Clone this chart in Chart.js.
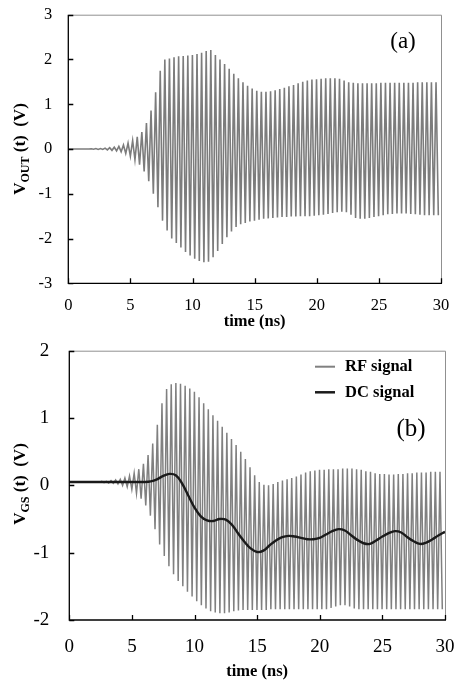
<!DOCTYPE html>
<html lang="en">
<head>
<meta charset="UTF-8">
<title>VOUT and VGS transient</title>
<script src="https://cdn.jsdelivr.net/npm/chart.js"></script>
<style>
  body { margin: 0; background: #fff; }
  canvas { position: absolute; left: 0; }
  #chartA { top: 0; }
  #chartB { top: 330px; }
</style>
</head>
<body>
<canvas id="chartA" width="456" height="330"></canvas>
<canvas id="chartB" width="456" height="351"></canvas>
<script>
// one RF cycle (ns), peaks at k*T, troughs at (k+0.5)*T
const rfPeriod = 0.37;

// panel (a): V_OUT peak / trough per cycle (V)
const voutPeaks = [
  0, 0, 0, 0, 0,
  0.005, 0.01, 0.01, 0.02, 0.03,
  0.04, 0.06, 0.09, 0.13, 0.19,
  0.27, 0.38, 0.58, 0.86, 1.27,
  1.75, 2.0, 2.02, 2.05, 2.07,
  2.08, 2.09, 2.1, 2.12, 2.15,
  2.19, 2.21, 2.1, 2.0, 1.9,
  1.79, 1.68, 1.58, 1.49, 1.41,
  1.35, 1.3, 1.28, 1.28, 1.29,
  1.31, 1.34, 1.37, 1.4, 1.43,
  1.47, 1.5, 1.53, 1.55, 1.56,
  1.57, 1.58, 1.58, 1.58, 1.57,
  1.53, 1.49, 1.48, 1.47, 1.47,
  1.47, 1.47, 1.47, 1.48, 1.48,
  1.48, 1.48, 1.48, 1.48, 1.48,
  1.48, 1.49, 1.49, 1.49, 1.49,
  1.49
];
const voutTroughs = [
  0, 0, 0, 0, 0,
  -0.005, -0.01, -0.01, -0.02, -0.03,
  -0.04, -0.06, -0.1, -0.16, -0.24,
  -0.35, -0.5, -0.72, -1.0, -1.3,
  -1.6, -1.82, -2.0, -2.1, -2.2,
  -2.3, -2.38, -2.45, -2.5, -2.53,
  -2.52, -2.42, -2.28, -2.12, -1.97,
  -1.84, -1.74, -1.68, -1.65, -1.62,
  -1.6, -1.58, -1.56, -1.55, -1.54,
  -1.53, -1.52, -1.52, -1.51, -1.51,
  -1.5, -1.5, -1.5, -1.49, -1.48,
  -1.47, -1.45, -1.43, -1.41, -1.4,
  -1.41, -1.47, -1.54, -1.56, -1.56,
  -1.54, -1.52, -1.5, -1.48, -1.46,
  -1.45, -1.44, -1.44, -1.44, -1.45,
  -1.46, -1.47, -1.48, -1.48, -1.48,
  -1.48
];

// panel (b): V_GS RF peak / trough per cycle (V)
const vgsPeaks = [
  0.05, 0.05, 0.05, 0.05, 0.05,
  0.05, 0.055, 0.06, 0.06, 0.07,
  0.08, 0.09, 0.11, 0.14, 0.18,
  0.24, 0.32, 0.45, 0.62, 0.9,
  1.22, 1.43, 1.5, 1.52, 1.51,
  1.48, 1.44, 1.39, 1.31, 1.22,
  1.13, 1.04, 0.96, 0.87, 0.78,
  0.69, 0.6, 0.5, 0.39, 0.27,
  0.15, 0.05, 0.01, 0.0, 0.02,
  0.05, 0.07, 0.09, 0.11, 0.13,
  0.16, 0.19, 0.21, 0.22, 0.23,
  0.23, 0.24, 0.24, 0.24, 0.25,
  0.25, 0.25, 0.24, 0.23, 0.21,
  0.2, 0.18, 0.17, 0.17, 0.16,
  0.16, 0.17, 0.17, 0.18, 0.18,
  0.19, 0.19, 0.19, 0.2, 0.2,
  0.2
];
const vgsTroughs = [
  0.05, 0.05, 0.05, 0.05, 0.05,
  0.05, 0.045, 0.04, 0.035, 0.03,
  0.02, 0.0, -0.02, -0.06, -0.12,
  -0.2, -0.3, -0.45, -0.65, -0.88,
  -1.05, -1.2, -1.32, -1.42, -1.5,
  -1.58, -1.65, -1.72, -1.78, -1.83,
  -1.87, -1.89, -1.9, -1.9, -1.89,
  -1.87, -1.86, -1.85, -1.85, -1.85,
  -1.85, -1.85, -1.85, -1.84, -1.84,
  -1.84, -1.84, -1.84, -1.84, -1.84,
  -1.84, -1.84, -1.84, -1.84, -1.84,
  -1.84, -1.82, -1.8, -1.78, -1.78,
  -1.8, -1.83, -1.84, -1.84, -1.84,
  -1.84, -1.84, -1.84, -1.84, -1.84,
  -1.84, -1.84, -1.84, -1.84, -1.84,
  -1.84, -1.84, -1.84, -1.84, -1.84,
  -1.84
];

// panel (b): DC signal
const dcTimes = [
  0, 0.5, 1, 1.5, 2, 2.5, 3, 3.5, 4, 4.5, 5, 5.5, 6, 6.5, 7, 7.5, 8, 8.5, 9, 9.5,
  10, 10.5, 11, 11.5, 12, 12.5, 13, 13.5, 14, 14.5, 15, 15.5, 16, 16.5, 17, 17.5,
  18, 18.5, 19, 19.5, 20, 20.5, 21, 21.5, 22, 22.5, 23, 23.5, 24, 24.5, 25, 25.5,
  26, 26.5, 27, 27.5, 28, 28.5, 29, 29.5, 30
];
const dcValues = [
  0.05, 0.05, 0.05, 0.05, 0.05, 0.05, 0.05, 0.05, 0.05, 0.05, 0.05, 0.05, 0.05,
  0.06, 0.09, 0.14, 0.17, 0.15, 0.03, -0.15, -0.33, -0.46, -0.52, -0.53, -0.5,
  -0.51, -0.59, -0.72, -0.84, -0.94, -0.99, -0.97, -0.89, -0.82, -0.77, -0.75,
  -0.76, -0.78, -0.8, -0.8, -0.78, -0.73, -0.68, -0.65, -0.67, -0.74, -0.81,
  -0.86, -0.87, -0.82, -0.76, -0.71, -0.68, -0.7, -0.77, -0.83, -0.87, -0.85,
  -0.8, -0.74, -0.69
];

const xTicks = [0, 5, 10, 15, 20, 25, 30];
const yTicksA = [-3, -2, -1, 0, 1, 2, 3];
const yTicksB = [-2, -1, 0, 1, 2];

const serif = "'Liberation Serif', 'Times New Roman', serif";

function rfPoints(peaks, troughs) {
  const pts = [];
  for (let k = 0; k < peaks.length; k++) {
    pts.push({ x: k * rfPeriod, y: peaks[k] });
    pts.push({ x: (k + 0.5) * rfPeriod, y: troughs[k] });
  }
  return pts;
}

// stop the scales from reserving extra room for edge labels
function noScalePadding(s) {
  s.paddingLeft = 0; s.paddingRight = 0; s.paddingTop = 0; s.paddingBottom = 0;
}

// box, inward ticks, titles, panel tag, legend
const decorPlugin = {
  id: 'decor',
  afterDraw(chart, args, o) {
    const { ctx, chartArea: a, scales } = chart;
    ctx.save();
    ctx.lineWidth = 1;
    ctx.strokeStyle = '#909090';
    ctx.beginPath();
    ctx.moveTo(a.left, a.top + 0.5); ctx.lineTo(a.right + 0.5, a.top + 0.5);
    ctx.lineTo(a.right + 0.5, a.bottom);
    ctx.stroke();
    ctx.strokeStyle = '#000';
    ctx.lineWidth = 1.3;
    ctx.beginPath();
    ctx.moveTo(a.left, a.top); ctx.lineTo(a.left, a.bottom); ctx.lineTo(a.right + 1, a.bottom);
    scales.x.ticks.forEach(t => {
      const px = Math.round(scales.x.getPixelForValue(t.value)) + 0.5;
      ctx.moveTo(px, a.bottom); ctx.lineTo(px, a.bottom - 5);
    });
    scales.y.ticks.forEach(t => {
      const py = Math.round(scales.y.getPixelForValue(t.value)) + 0.5;
      ctx.moveTo(a.left, py); ctx.lineTo(a.left + 5, py);
    });
    ctx.stroke();

    ctx.fillStyle = '#000';
    // x title
    ctx.font = 'bold ' + o.xTitleSize + 'px ' + serif;
    ctx.textAlign = 'center';
    ctx.textBaseline = 'middle';
    ctx.fillText('time (ns)', (a.left + a.right) / 2, o.xTitleY);

    // y title with subscript, rotated
    ctx.save();
    ctx.translate(o.yTitleX, o.yTitleY);
    ctx.rotate(-Math.PI / 2);
    ctx.textAlign = 'left';
    ctx.textBaseline = 'middle';
    const big = 'bold ' + o.yTitleSize + 'px ' + serif;
    const small = 'bold ' + Math.round(o.yTitleSize * 0.68) + 'px ' + serif;
    ctx.font = big; const w1 = ctx.measureText('V').width;
    ctx.font = small; const w2 = ctx.measureText(o.sub).width;
    ctx.font = big; const w3 = ctx.measureText(' (t)  (V)').width;
    let x0 = -(w1 + w2 + w3) / 2;
    ctx.font = big; ctx.fillText('V', x0, 0);
    ctx.font = small; ctx.fillText(o.sub, x0 + w1, o.yTitleSize * 0.28);
    ctx.font = big; ctx.fillText(' (t)  (V)', x0 + w1 + w2, 0);
    ctx.restore();

    // panel tag
    ctx.font = o.tagSize + 'px ' + serif;
    ctx.textAlign = 'center';
    ctx.textBaseline = 'middle';
    ctx.fillText(o.tag, o.tagX, o.tagY);

    // legend
    if (o.legend) {
      ctx.textAlign = 'left';
      ctx.font = 'bold 16.5px ' + serif;
      o.legend.forEach(item => {
        ctx.strokeStyle = item.color;
        ctx.lineWidth = item.width;
        ctx.beginPath();
        ctx.moveTo(315, item.y); ctx.lineTo(335, item.y);
        ctx.stroke();
        ctx.fillText(item.text, 345, item.y);
      });
    }
    ctx.restore();
  }
};

function makeChart(id, opts) {
  return new Chart(document.getElementById(id), {
    type: 'scatter',
    data: { datasets: opts.datasets },
    options: {
      responsive: false,
      animation: false,
      events: [],
      layout: { padding: { top: opts.padTop, right: opts.padRight, left: 0, bottom: 0 } },
      plugins: { legend: { display: false }, tooltip: { enabled: false }, decor: opts.decor },
      scales: {
        x: {
          type: 'linear', min: 0, max: 30,
          afterBuildTicks: s => { s.ticks = xTicks.map(v => ({ value: v })); },
          afterFit: s => { s.height = opts.xHeight; noScalePadding(s); },
          grid: { display: false, drawTicks: false },
          border: { display: false },
          ticks: { color: '#000', font: { family: serif, size: opts.tickSize }, padding: opts.xPad, maxRotation: 0 }
        },
        y: {
          type: 'linear', min: opts.yMin, max: opts.yMax,
          afterBuildTicks: s => { s.ticks = opts.yTicks.map(v => ({ value: v })); },
          afterFit: s => { s.width = opts.yWidth; noScalePadding(s); },
          grid: { display: false, drawTicks: false },
          border: { display: false },
          ticks: { color: '#000', font: { family: serif, size: opts.tickSize }, padding: opts.yPad }
        }
      }
    },
    plugins: [decorPlugin]
  });
}

makeChart('chartA', {
  padTop: 14.7, padRight: 15, xHeight: 46.7, yWidth: 68.3,
  yMin: -3, yMax: 3, yTicks: yTicksA, tickSize: 16.5, xPad: 12, yPad: 16,
  datasets: [{
    data: rfPoints(voutPeaks, voutTroughs),
    showLine: true, pointRadius: 0, borderColor: '#7c7c7c', borderWidth: 1.6
  }],
  decor: {
    xTitleY: 322, xTitleSize: 16.5,
    sub: 'OUT', yTitleX: 21, yTitleY: 149, yTitleSize: 17,
    tag: '(a)', tagX: 403, tagY: 42, tagSize: 23
  }
});

makeChart('chartB', {
  padTop: 20.7, padRight: 11, xHeight: 61, yWidth: 69.3,
  yMin: -2, yMax: 2, yTicks: yTicksB, tickSize: 19, xPad: 16, yPad: 20,
  datasets: [
    {
      data: dcTimes.map((t, i) => ({ x: t, y: dcValues[i] })),
      showLine: true, pointRadius: 0, borderColor: '#1a1a1a', borderWidth: 2.4,
      tension: 0.4, order: 0
    },
    {
      data: rfPoints(vgsPeaks, vgsTroughs),
      showLine: true, pointRadius: 0, borderColor: '#808080', borderWidth: 1.5, order: 1
    }
  ],
  decor: {
    xTitleY: 342, xTitleSize: 16.5,
    sub: 'GS', yTitleX: 21, yTitleY: 154, yTitleSize: 17,
    tag: '(b)', tagX: 411, tagY: 99, tagSize: 25,
    legend: [
      { text: 'RF signal', color: '#808080', width: 2, y: 36.7 },
      { text: 'DC signal', color: '#1a1a1a', width: 2.5, y: 62.3 }
    ]
  }
});
</script>
</body>
</html>
